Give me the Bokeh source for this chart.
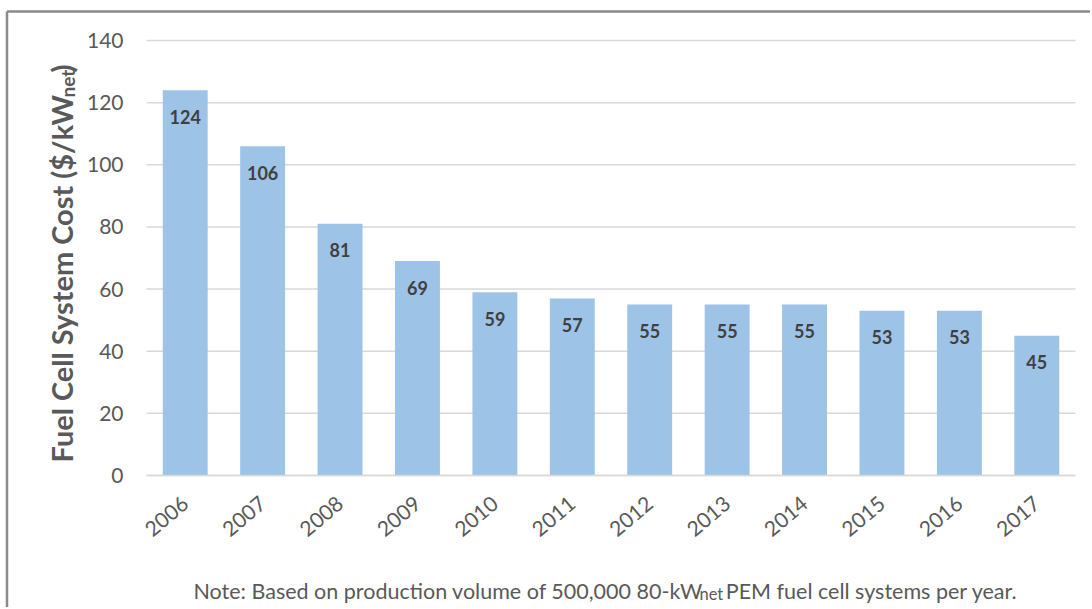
from bokeh.plotting import figure
from bokeh.models import Range1d, FixedTicker, Label
from bokeh.core.properties import value
from bokeh.embed import file_html
from bokeh.resources import INLINE
import math

years = ["2006", "2007", "2008", "2009", "2010", "2011", "2012", "2013", "2014", "2015", "2016", "2017"]
costs = [124, 106, 81, 69, 59, 57, 55, 55, 55, 53, 53, 45]
y_ticks = [0, 20, 40, 60, 80, 100, 120, 140]

FONT = "Lato"
GRAY = "#595959"
W, H = 1090, 607

# page-pixel -> data helpers (plot area: left 146, right 1075, top 40, bottom 475 in page px)
N = len(years)
def dx(px):
    return (px - 146) / (929 / N)

def dy(py):
    return (475 - py) / (435 / 140)

p = figure(width=W, height=H, x_range=Range1d(dx(0), dx(W)), y_range=Range1d(dy(H), dy(0)),
           output_backend="svg", toolbar_location=None, min_border=0)
p.outline_line_color = None
p.background_fill_color = "white"
p.border_fill_color = "white"
p.xgrid.visible = False
p.ygrid.visible = False

# chart border (top and left visible in the reference)
p.segment(x0=[dx(6.5), dx(6.5)], y0=[dy(11), dy(11)], x1=[dx(W), dx(6.5)], y1=[dy(11), dy(H)],
          line_color="#8a8a8a", line_width=2.5)

# horizontal gridlines across the plot area
p.segment(x0=[0] * len(y_ticks), x1=[N] * len(y_ticks), y0=y_ticks, y1=y_ticks,
          line_color="#d9d9d9", line_width=1.5)

xs = [i + 0.5 for i in range(N)]
p.vbar(x=xs, top=costs, width=0.58, fill_color="#9DC3E6", line_color=None)

# value labels inside bars
p.text(x=xs, y=[c - 8.5 for c in costs], text=[str(c) for c in costs],
       text_align="center", text_baseline="middle", text_font_size="18px",
       text_font_style="bold", text_color="#404040", text_font=value(FONT))

p.yaxis.fixed_location = 0
p.yaxis.ticker = FixedTicker(ticks=y_ticks)
p.yaxis.axis_line_color = None
p.yaxis.major_tick_line_color = None
p.yaxis.minor_tick_line_color = None
p.yaxis.major_tick_out = 0
p.yaxis.major_label_standoff = 23
p.yaxis.major_label_text_font = FONT
p.yaxis.major_label_text_font_size = "21px"
p.yaxis.major_label_text_color = GRAY

p.xaxis.fixed_location = 0
p.xaxis.ticker = FixedTicker(ticks=xs)
p.xaxis.major_label_overrides = {x: y for x, y in zip(xs, years)}
p.xaxis.axis_line_color = None
p.xaxis.major_tick_line_color = None
p.xaxis.minor_tick_line_color = None
p.xaxis.major_tick_out = 0
p.xaxis.major_label_orientation = 0.7
p.xaxis.major_label_standoff = 25
p.xaxis.major_label_text_font = FONT
p.xaxis.major_label_text_font_size = "21px"
p.xaxis.major_label_text_color = GRAY

# x axis baseline over the plot area
p.segment(x0=[0], x1=[N], y0=[0], y1=[0], line_color="#d9d9d9", line_width=1.5)

# Y axis title with subscript
p.add_layout(Label(x=dx(61), y=dy(462), text="Fuel Cell System Cost ($/kW", angle=math.pi / 2,
                   text_align="left", text_baseline="middle", text_font=FONT,
                   text_font_size="29px", text_font_style="bold", text_color=GRAY))
p.add_layout(Label(x=dx(66.5), y=dy(97), text="net", angle=math.pi / 2,
                   text_align="left", text_baseline="middle", text_font=FONT,
                   text_font_size="19px", text_font_style="bold", text_color=GRAY))
p.add_layout(Label(x=dx(61), y=dy(72), text=")", angle=math.pi / 2,
                   text_align="left", text_baseline="middle", text_font=FONT,
                   text_font_size="29px", text_font_style="bold", text_color=GRAY))

# Note with subscript
p.add_layout(Label(x=dx(193), y=dy(590), text="Note: Based on production volume of 500,000 80-kW",
                   text_align="left", text_baseline="middle", text_font=FONT,
                   text_font_size="21.5px", text_color=GRAY))
p.add_layout(Label(x=dx(699), y=dy(593.5), text="net",
                   text_align="left", text_baseline="middle", text_font=FONT,
                   text_font_size="16.5px", text_color=GRAY))
p.add_layout(Label(x=dx(1017), y=dy(590), text="PEM fuel cell systems per year.",
                   text_align="right", text_baseline="middle", text_font=FONT,
                   text_font_size="21.5px", text_color=GRAY))

open("out.html", "w").write(file_html(p, INLINE))
